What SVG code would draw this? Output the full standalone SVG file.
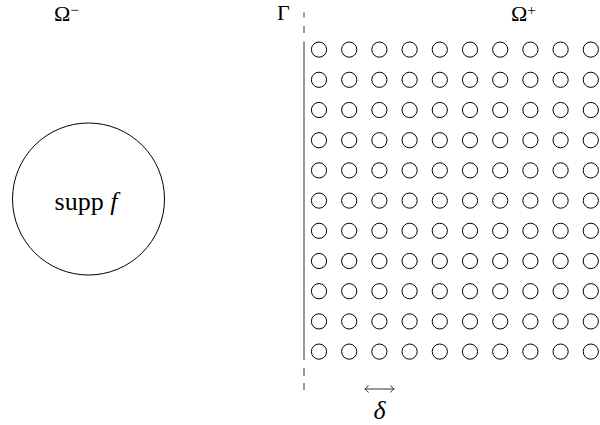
<svg xmlns="http://www.w3.org/2000/svg" xmlns:xlink="http://www.w3.org/1999/xlink" width="600" height="425" viewBox="0 0 600 425">
<style>
.lbl{font-family:"Liberation Serif","DejaVu Serif",serif;fill:#000}
.it{font-style:italic}
.dot{fill:none;stroke:#000;stroke-width:1}
.edge{fill:none;stroke:#333;stroke-width:1}
</style>
<defs>
<g id="row">
<circle class="dot" cx="319" cy="0" r="7.6"/>
<circle class="dot" cx="349.2" cy="0" r="7.6"/>
<circle class="dot" cx="379.4" cy="0" r="7.6"/>
<circle class="dot" cx="409.6" cy="0" r="7.6"/>
<circle class="dot" cx="439.8" cy="0" r="7.6"/>
<circle class="dot" cx="470" cy="0" r="7.6"/>
<circle class="dot" cx="500.2" cy="0" r="7.6"/>
<circle class="dot" cx="530.4" cy="0" r="7.6"/>
<circle class="dot" cx="560.6" cy="0" r="7.6"/>
<circle class="dot" cx="590.8" cy="0" r="7.6"/>
</g>
</defs>
<rect width="600" height="425" fill="#fff"/>
<g id="omega-minus"><text class="lbl" x="54" y="21" font-size="22">Ω<tspan font-size="15" dy="-6.5">−</tspan></text></g>
<g id="omega-plus"><text class="lbl" x="511" y="21" font-size="22">Ω<tspan font-size="15" dy="-6.5">+</tspan></text></g>
<g id="gamma"><text class="lbl" x="277" y="20" font-size="22">Γ</text></g>
<g id="supp">
<circle cx="88.5" cy="199" r="76" fill="none" stroke="#000" stroke-width="1"/>
<text class="lbl" x="86" y="210" font-size="26" text-anchor="middle">supp <tspan class="it">f</tspan></text>
</g>
<g id="boundary">
<line class="edge" x1="304" y1="41.5" x2="304" y2="360"/>
<line class="edge" x1="304" y1="12.5" x2="304" y2="17.5"/>
<line class="edge" x1="304" y1="26" x2="304" y2="33"/>
<line class="edge" x1="304" y1="368" x2="304" y2="376"/>
<line class="edge" x1="304" y1="383" x2="304" y2="390"/>
</g>
<g id="grid">
<use xlink:href="#row" y="49.6"/>
<use xlink:href="#row" y="79.8"/>
<use xlink:href="#row" y="110"/>
<use xlink:href="#row" y="140.2"/>
<use xlink:href="#row" y="170.4"/>
<use xlink:href="#row" y="200.6"/>
<use xlink:href="#row" y="230.8"/>
<use xlink:href="#row" y="261"/>
<use xlink:href="#row" y="291.2"/>
<use xlink:href="#row" y="321.4"/>
<use xlink:href="#row" y="351.6"/>
</g>
<g id="connectors">
<g id="delta-arrow">
<line class="edge" x1="365" y1="389" x2="394" y2="389" stroke="#000"/>
<path class="edge" d="M368.5 385.5 Q366.5 388.3 364.8 389 Q366.5 389.7 368.5 392.5"/>
<path class="edge" d="M390.5 385.5 Q392.5 388.3 394.2 389 Q392.5 389.7 390.5 392.5"/>
</g>
</g>
<g id="delta"><text class="lbl it" x="379.5" y="419" font-size="26" text-anchor="middle">δ</text></g>
</svg>
